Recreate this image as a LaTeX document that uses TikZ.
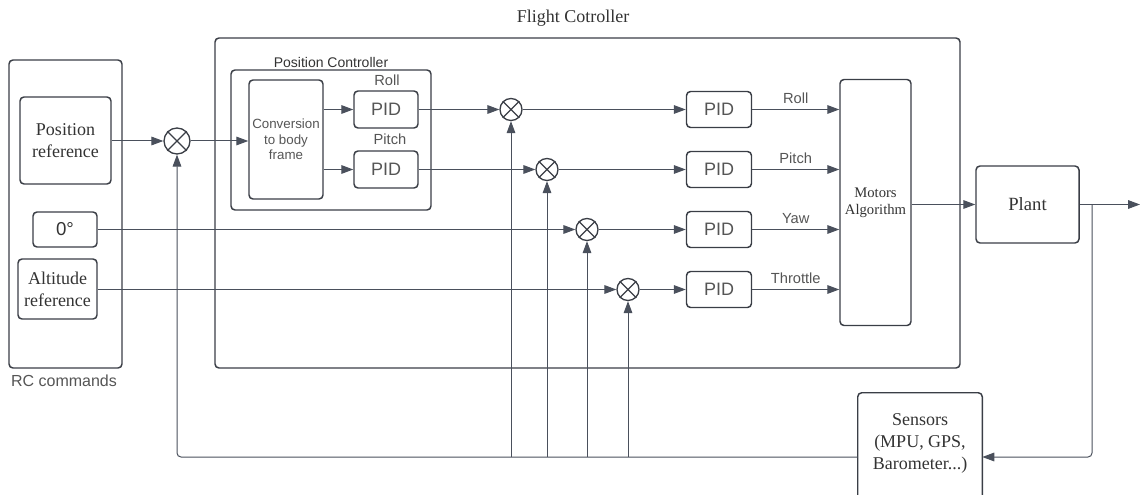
\documentclass[tikz,border=0pt]{standalone}
\usepackage{fontspec}
\setmainfont{Liberation Serif}
\setsansfont{Liberation Sans}
\usetikzlibrary{arrows.meta}
\definecolor{ln}{HTML}{4A505C}
\definecolor{bx}{HTML}{3A3E46}
\definecolor{lbl}{HTML}{555555}
\definecolor{txt}{HTML}{333333}
\begin{document}
\begin{tikzpicture}[x=0.75pt,y=-0.75pt,
  sz/.style 2 args={minimum width=#1*0.75pt, minimum height=#2*0.75pt},
  box/.style={draw=bx, line width=1.1pt, rounded corners=3pt, inner sep=0pt, align=center},
  sumj/.style={circle, draw=bx, line width=1pt, inner sep=0pt, minimum size=16.5pt},
  conn/.style={draw=ln, line width=0.75pt, -{Triangle[length=9pt,width=6.5pt]}},
  serifA/.style={font=\fontsize{13.5}{16.5}\selectfont, text=txt},
  pidtxt/.style={font=\sffamily\fontsize{13.5}{16}\selectfont, text=lbl},
  sigl/.style={font=\sffamily\fontsize{11}{13}\selectfont, text=lbl}]
\useasboundingbox (0,0) rectangle (1141,495);
\clip (0,0) rectangle (1141,495);

% RC commands
\node[box, sz={113}{308}] (rc) at (65.5,214) {};
\node[box, sz={91}{87}, serifA] (pos) at (65.5,140.5) {Position\\reference};
\node[box, sz={64}{35}, font=\sffamily\fontsize{14}{16}\selectfont, text=txt] (zero) at (65,229.5) {0°};
\node[box, sz={79}{60}, serifA] (alt) at (57.5,289) {Altitude\\reference};
\node[font=\sffamily\fontsize{12}{14}\selectfont, text=lbl] (rclbl) at (64,381) {RC commands};

% Flight controller
\node[box, sz={745}{330}] (fc) at (587.5,203) {};
\node[serifA] (fclbl) at (573,18) {Flight Cotroller};

% Position controller
\node[box, sz={200}{140}] (pc) at (331,140) {};
\node[font=\sffamily\fontsize{10.5}{12}\selectfont, text=txt] (pclbl) at (331,62) {Position Controller};
\node[box, sz={74}{119}, font=\sffamily\fontsize{10}{11.5}\selectfont, text=lbl] (conv) at (286,139.5) {Conversion\\to body\\frame};
\node[box, sz={64}{37}, pidtxt] (pidr1) at (386,109.5) {PID};
\node[box, sz={64}{37}, pidtxt] (pidp1) at (386,169.5) {PID};
\node[sigl] (rolll1) at (387,80) {Roll};
\node[sigl] (pitchl1) at (390,139) {Pitch};

% summing junctions
\node[sumj, minimum size=19.5pt] (s1) at (177,141) {};
\node[sumj] (s2) at (511,109.5) {};
\node[sumj] (s3) at (547,169.5) {};
\node[sumj] (s4) at (587,229.5) {};
\node[sumj] (s5) at (628,289.5) {};
\foreach \s in {s1,s2,s3,s4,s5}{
  \draw[bx, line width=1pt] (\s.north east) -- (\s.south west) (\s.north west) -- (\s.south east);
}

% right PIDs
\node[box, sz={65}{36}, pidtxt] (pid1) at (719,109.5) {PID};
\node[box, sz={65}{36}, pidtxt] (pid2) at (719,169.5) {PID};
\node[box, sz={65}{36}, pidtxt] (pid3) at (719,229.5) {PID};
\node[box, sz={65}{36}, pidtxt] (pid4) at (719,289.5) {PID};

% Motors, plant, sensors
\node[box, sz={71}{246}, font=\fontsize{11}{12.8}\selectfont, text=txt] (mot) at (875.5,202.5) {Motors\\Algorithm};
\node[box, sz={103}{77}, font=\fontsize{14}{16}\selectfont, text=txt] (plant) at (1027.5,204.5) {Plant};
\node[inner sep=0pt, sz={124}{200}] (sens) at (920,493) {};
\draw[bx, line width=1.1pt, rounded corners=3pt] (sens.south west) |- (sens.north) -| (sens.south east);
\node[serifA, align=center] (senstxt) at (920,443) {Sensors\\(MPU, GPS,\\Barometer...)};
\coordinate (out) at (1140,204.5);
\coordinate (br) at (1092,204.5);

% connectors
\draw[conn] (pos.east |- s1.west) -- (s1.west);
\draw[conn] (s1.east) -- (conv.west |- s1.east);
\draw[conn] (conv.east |- pidr1.west) -- (pidr1.west);
\draw[conn] (conv.east |- pidp1.west) -- (pidp1.west);
\draw[conn] (pidr1.east) -- (s2.west);
\draw[conn] (pidp1.east) -- (s3.west);
\draw[conn] (zero.east |- s4.west) -- (s4.west);
\draw[conn] (alt.east |- s5.west) -- (s5.west);
\draw[conn] (s2.east) -- (pid1.west);
\draw[conn] (s3.east) -- (pid2.west);
\draw[conn] (s4.east) -- (pid3.west);
\draw[conn] (s5.east) -- (pid4.west);
\draw[conn] (pid1.east) -- node[sigl, above=1pt] {Roll} (mot.west |- pid1.east);
\draw[conn] (pid2.east) -- node[sigl, above=1pt] {Pitch} (mot.west |- pid2.east);
\draw[conn] (pid3.east) -- node[sigl, above=1pt] {Yaw} (mot.west |- pid3.east);
\draw[conn] (pid4.east) -- node[sigl, above=1pt] {Throttle} (mot.west |- pid4.east);
\draw[conn] (mot.east |- plant.west) -- (plant.west);
\draw[conn] (plant.east) -- (out);
\draw[conn, rounded corners=3pt] (br) -- (br |- 0,457) -- (sens.east |- 0,457);
\draw[conn, rounded corners=3pt] (sens.west |- 0,457) -- (s1.south |- 0,457) -- (s1.south);
\draw[conn] (s2.south |- 0,457) -- (s2.south);
\draw[conn] (s3.south |- 0,457) -- (s3.south);
\draw[conn] (s4.south |- 0,457) -- (s4.south);
\draw[conn] (s5.south |- 0,457) -- (s5.south);
\end{tikzpicture}
\end{document}
